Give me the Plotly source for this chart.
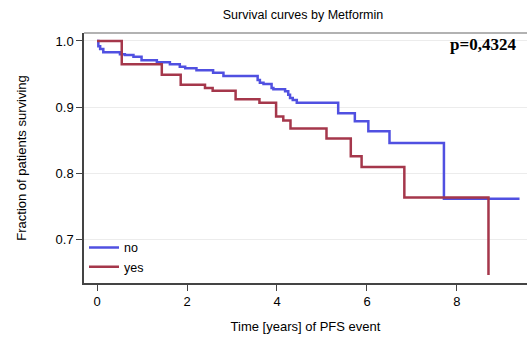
import plotly.graph_objects as go

# "no" group (blue): step start times and survival values
t_no = [0.0, 0.03, 0.07, 0.14, 0.51, 0.62, 0.81, 0.99, 1.33, 1.62, 1.84, 1.96, 2.21, 2.58, 2.81,
        3.57, 3.62, 3.70, 3.88, 3.92, 4.18, 4.25, 4.29, 4.35, 4.44, 5.36, 5.73, 6.03, 6.50, 7.71, 9.39]
s_no = [1.0, 0.992, 0.988, 0.983, 0.980, 0.979, 0.976, 0.971, 0.968, 0.965, 0.961, 0.959, 0.956, 0.952, 0.947,
        0.941, 0.937, 0.935, 0.929, 0.927, 0.924, 0.919, 0.914, 0.911, 0.907, 0.891, 0.879, 0.864, 0.846, 0.762, 0.762]

# "yes" group (red)
t_yes = [0.0, 0.55, 1.44, 1.86, 2.40, 2.57, 3.08, 3.61, 3.98, 4.14, 4.30, 5.10, 5.64, 5.88, 6.83, 8.70, 8.70]
s_yes = [1.0, 0.965, 0.949, 0.934, 0.929, 0.925, 0.912, 0.907, 0.886, 0.880, 0.868, 0.853, 0.826, 0.810, 0.764, 0.764, 0.647]

x_ticks = [0, 2, 4, 6, 8]
y_ticks = [0.7, 0.8, 0.9, 1.0]
y_tick_text = ["0.7", "0.8", "0.9", "1.0"]

blue = "rgb(80,80,225)"
red = "rgb(165,55,75)"

fig = go.Figure()
fig.add_trace(go.Scatter(x=t_no, y=s_no, mode="lines", line_shape="hv",
                         line=dict(color=blue, width=2.5), name="no"))
fig.add_trace(go.Scatter(x=t_yes, y=s_yes, mode="lines", line_shape="hv",
                         line=dict(color=red, width=2.5), name="yes"))

fig.update_layout(
    width=527, height=345,
    margin=dict(l=84, r=0, t=33, b=62),
    paper_bgcolor="white", plot_bgcolor="white",
    font=dict(family="Liberation Sans, Arial, sans-serif", color="black", size=13),
    title=dict(text="Survival curves by Metformin", x=0.575, xanchor="center", y=0.958, yanchor="middle",
               font=dict(size=12.5)),
    showlegend=True,
    legend=dict(x=0.0, y=0.005, xanchor="left", yanchor="bottom", bgcolor="rgba(255,255,255,0)",
                font=dict(size=12.5), itemwidth=30),
    xaxis=dict(range=[-0.289, 9.556], tickvals=x_ticks, showgrid=False, zeroline=False,
               showline=True, linecolor="#444", linewidth=1.5, ticks="outside", ticklen=6,
               tickcolor="#444", mirror=False,
               title=dict(text="Time [years] of PFS event", font=dict(size=13), standoff=14)),
    yaxis=dict(range=[0.635, 1.012], tickvals=y_ticks, ticktext=y_tick_text, showgrid=True,
               gridcolor="#ececec", zeroline=False, showline=True, linecolor="#444", linewidth=1.5,
               ticks="outside", ticklen=6, tickcolor="#444",
               title=dict(text="Fraction of patients surviving", font=dict(size=13), standoff=26)),
    shapes=[dict(type="line", xref="paper", yref="paper", x0=0, x1=1, y0=1, y1=1,
                 line=dict(color="#999", width=1.5))],
    annotations=[dict(text="<b>p=0,4324</b>", xref="paper", yref="paper", x=0.98, y=0.955,
                      xanchor="right", yanchor="middle", showarrow=False,
                      font=dict(family="Liberation Serif, Times New Roman, serif", size=17, color="black"))],
)

fig.write_html("out.html")
